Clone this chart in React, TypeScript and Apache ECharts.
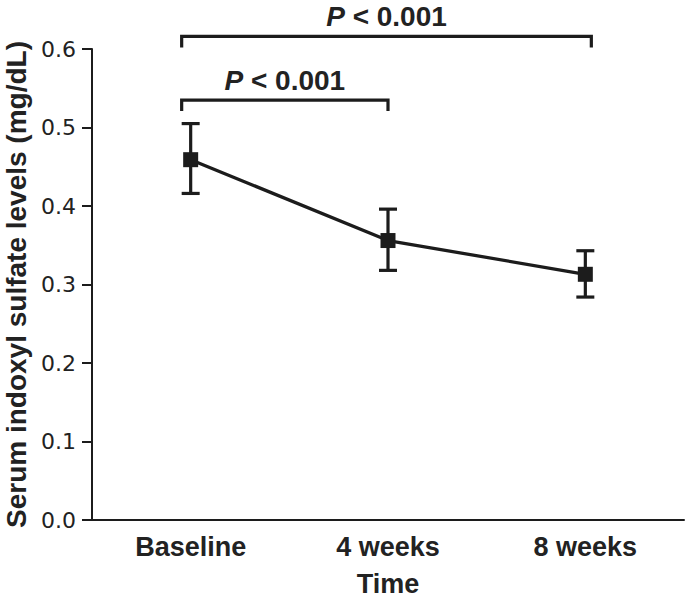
import React, { useEffect, useRef } from "react";
import * as echarts from "echarts";

const categories = ["Baseline", "4 weeks", "8 weeks"];
const means = [0.459, 0.356, 0.313];
const upper = [0.505, 0.396, 0.343];
const lower = [0.416, 0.318, 0.284];
const yTicks = { min: 0, max: 0.6, interval: 0.1 };
// brackets: [fromIndex, toIndex, level]
const brackets = [
  [0, 1, 0.535],
  [0, 2, 0.616],
];
const bracketLabel = "< 0.001";

const INK = "#1c1c1c";
const SANS = "'Liberation Sans', Arial, Helvetica, sans-serif";

export default function App() {
  const ref = useRef<HTMLDivElement>(null);
  useEffect(() => {
    document.body.style.margin = "0";
    const chart = echarts.init(ref.current!, null, { renderer: "svg" });
    const errData = categories.map((_, i) => [i, lower[i], upper[i]]);
    chart.setOption({
      animation: false,
      backgroundColor: "#ffffff",
      grid: { left: 92, right: 1, top: 49, bottom: 80, outerBoundsMode: "none", containLabel: false },
      xAxis: {
        type: "category",
        data: categories,
        boundaryGap: true,
        name: "Time",
        nameLocation: "middle",
        nameGap: 53,
        nameTextStyle: { fontSize: 27, lineHeight: 22, fontWeight: "bold", color: "#222", fontFamily: SANS },
        axisLine: { lineStyle: { color: INK, width: 2 } },
        axisTick: { alignWithLabel: true, length: 10, lineStyle: { color: INK, width: 2 } },
        axisLabel: { fontSize: 27, fontWeight: "bold", color: "#222", fontFamily: SANS, margin: 13 },
        splitLine: { show: false },
      },
      yAxis: {
        type: "value",
        min: yTicks.min,
        max: yTicks.max,
        interval: yTicks.interval,
        name: "Serum indoxyl sulfate levels (mg/dL)",
        nameLocation: "middle",
        nameGap: 63,
        nameTextStyle: { fontSize: 28, lineHeight: 24, fontWeight: "bold", color: "#222", fontFamily: SANS },
        axisLine: { show: true, lineStyle: { color: INK, width: 2 } },
        axisTick: { show: true, length: 10, lineStyle: { color: INK, width: 2 } },
        axisLabel: {
          fontSize: 22,
          color: "#222",
          fontFamily: "'DejaVu Sans', sans-serif",
          margin: 16,
          formatter: (v: number) => v.toFixed(1),
        },
        splitLine: { show: false },
      },
      series: [
        {
          type: "custom",
          name: "error",
          z: 2,
          data: errData,
          encode: { x: 0, y: [1, 2] },
          renderItem: (params: any, api: any) => {
            const i = api.value(0);
            const lo = api.coord([i, api.value(1)]);
            const hi = api.coord([i, api.value(2)]);
            const cap = 9;
            const st = { stroke: INK, lineWidth: 3.2 };
            return {
              type: "group",
              children: [
                { type: "line", shape: { x1: lo[0], y1: lo[1], x2: hi[0], y2: hi[1] }, style: st },
                { type: "line", shape: { x1: hi[0] - cap, y1: hi[1], x2: hi[0] + cap, y2: hi[1] }, style: st },
                { type: "line", shape: { x1: lo[0] - cap, y1: lo[1], x2: lo[0] + cap, y2: lo[1] }, style: st },
              ],
            };
          },
        },
        {
          type: "line",
          name: "mean",
          z: 3,
          data: means,
          symbol: "rect",
          symbolSize: 15,
          itemStyle: { color: INK },
          lineStyle: { color: INK, width: 3.3 },
        },
        {
          type: "custom",
          name: "brackets",
          z: 4,
          clip: false,
          data: brackets,
          encode: { x: [0, 1], y: 2 },
          renderItem: (params: any, api: any) => {
            const a = api.value(0);
            const b = api.value(1);
            const lvl = api.value(2);
            const p1 = api.coord([a, lvl]);
            const p2 = api.coord([b, lvl]);
            const x1 = p1[0] - 9;
            const x2 = p2[0] + (b === 2 ? 6 : 0);
            const y = p1[1];
            const drop = 11;
            return {
              type: "group",
              children: [
                {
                  type: "polyline",
                  shape: { points: [[x1, y + drop], [x1, y], [x2, y], [x2, y + drop]] },
                  style: { stroke: INK, lineWidth: 3.2, fill: "none" },
                },
                {
                  type: "text",
                  x: (x1 + x2) / 2,
                  y: y - 19.5,
                  style: {
                    text: "{i|P} {b|" + bracketLabel + "}",
                    align: "center",
                    verticalAlign: "middle",
                    textAlign: "center",
                    textVerticalAlign: "middle",
                    fill: "#222",
                    fontSize: 28,
                    lineHeight: 24,
                    fontWeight: "bold",
                    fontFamily: SANS,
                    rich: {
                      i: { fontSize: 28, lineHeight: 24, fontWeight: "bold", fontStyle: "italic", fontFamily: SANS, fill: "#222", color: "#222" },
                      b: { fontSize: 28, lineHeight: 24, fontWeight: "bold", fontFamily: SANS, fill: "#222", color: "#222" },
                    },
                  },
                },
              ],
            };
          },
        },
      ],
    });
    return () => chart.dispose();
  }, []);
  return <div ref={ref} style={{ width: 685, height: 600 }} />;
}
